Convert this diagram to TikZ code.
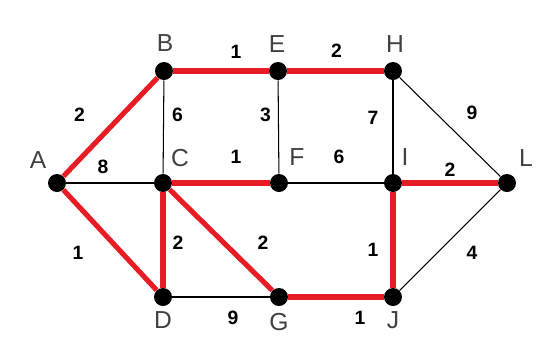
\documentclass[tikz,border=0pt]{standalone}
\usepackage{fontspec}
\setmainfont{Liberation Sans}
\usetikzlibrary{backgrounds}
\definecolor{treered}{RGB}{232,28,36}

\begin{document}
\begin{tikzpicture}[
		x=0.02cm, y=-0.02cm,
		vtx/.style={circle, fill=black, inner sep=0pt, minimum size=0.36cm},
		lbl/.style={font=\fontsize{14}{14}\selectfont, text=black!75, inner sep=0pt},
		plain/.style={draw=black, line width=0.6pt},
		tree/.style={draw=treered, line width=2.9pt},
		wt/.style={midway, inner sep=0pt, font=\fontsize{11}{11}\selectfont\bfseries}
		]
		\useasboundingbox (0,0) rectangle (542,343);
		
		% -------- Vertices --------
		\node[vtx, label={[lbl, shift={(-19,-23)}]center:A}] (A) at (57,183) {};
		\node[vtx, label={[lbl, shift={(1,-28)}]center:B}] (B) at (164,71) {};
		\node[vtx, label={[lbl, shift={(17,-25)}]center:C}] (C) at (163,183) {};
		\node[vtx, label={[lbl, shift={(0,23)}]center:D}] (D) at (163,297) {};
		\node[vtx, label={[lbl, shift={(-1,-27)}]center:E}] (E) at (278,71) {};
		\node[vtx, label={[lbl, shift={(18,-26)}]center:F}] (F) at (279,183) {};
		\node[vtx, label={[lbl, shift={(0,25)}]center:G}] (G) at (279,297) {};
		\node[vtx, label={[lbl, shift={(2,-27)}]center:H}] (H) at (393,71) {};
		\node[vtx, label={[lbl, shift={(12,-26)}]center:I}] (I) at (393,183) {};
		\node[vtx, label={[lbl, shift={(0,23)}]center:J}] (J) at (393,297) {};
		\node[vtx, label={[lbl, shift={(19,-25)}]center:L}] (L) at (507,183) {};
		
		% -------- Edges --------
		\begin{scope}[on background layer]
			\draw[plain] (A) -- node[wt, shift={(-7,-16)}] {8} (C);
			\draw[plain] (B) -- node[wt, shift={(14,-12)}] {6} (C);
			\draw[plain] (E) -- node[wt, shift={(-13,-12)}] {3} (F);
			\draw[plain] (F) -- node[wt, shift={(3,-26)}] {6} (I);
			\draw[plain] (H) -- node[wt, shift={(-20,-9)}] {7} (I);
			\draw[plain] (H) -- node[wt, shift={(22,-14)}] {9} (L);
			\draw[plain] (J) -- node[wt, shift={(22,13)}] {4} (L);
			\draw[plain] (D) -- node[wt, shift={(12,21)}] {9} (G);
			
			% spanning tree
			\draw[tree] (A) -- node[wt, shift={(-31,-12)}] {2} (B);
			\draw[tree] (B) -- node[wt, shift={(15,-19)}] {1} (E);
			\draw[tree] (E) -- node[wt, shift={(1,-20)}] {2} (H);
			\draw[tree] (A) -- node[wt, shift={(-32,13)}] {1} (D);
			\draw[tree] (C) -- node[wt, shift={(15,3)}] {2} (D);
			\draw[tree] (C) -- node[wt, shift={(42,3)}] {2} (G);
			\draw[tree] (C) -- node[wt, shift={(15,-26)}] {1} (F);
			\draw[tree] (G) -- node[wt, shift={(24,21)}] {1} (J);
			\draw[tree] (I) -- node[wt, shift={(-20,10)}] {1} (J);
			\draw[tree] (I) -- node[wt, shift={(0,-13)}] {2} (L);
		\end{scope}
		
\end{tikzpicture}
\end{document}
